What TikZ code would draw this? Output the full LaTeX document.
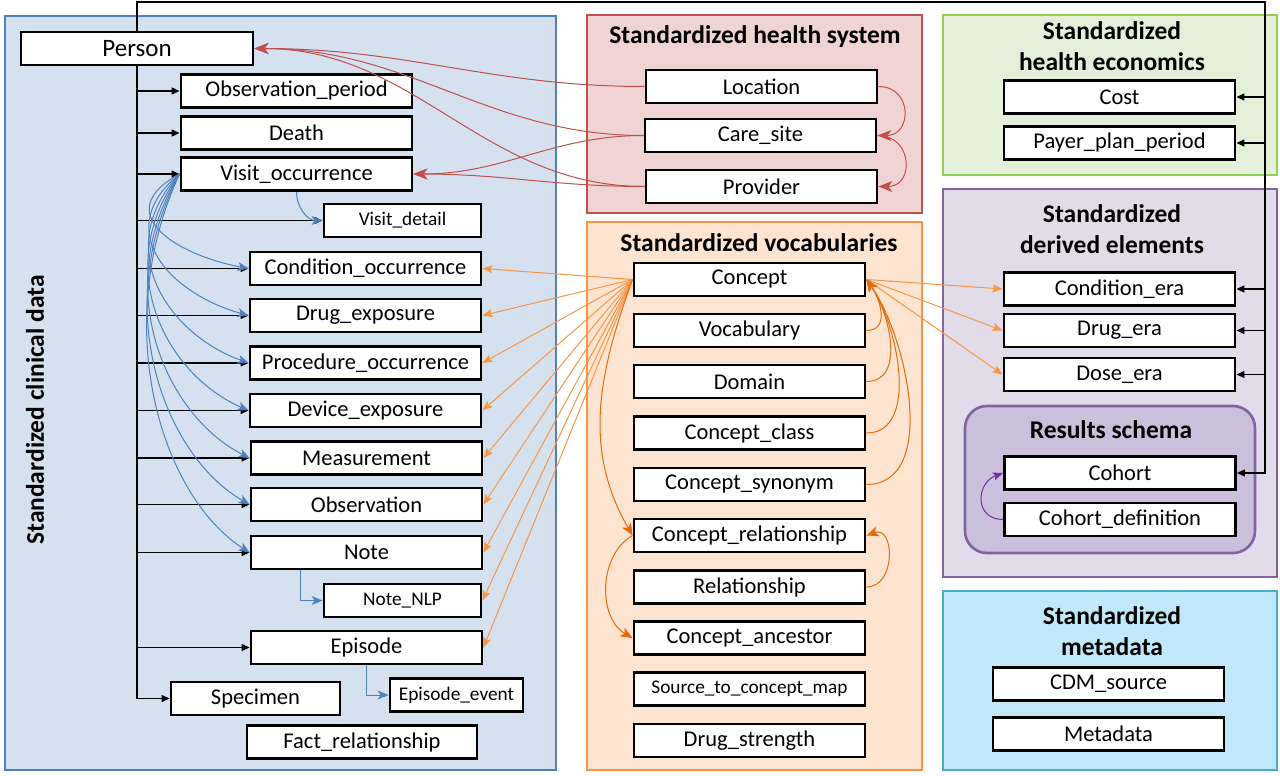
\documentclass[tikz,border=0pt]{standalone}
\usepackage{fontspec}
\setmainfont{Carlito}
\usepackage{tikz}
\usetikzlibrary{arrows.meta,positioning}
\definecolor{clinblue}{HTML}{4F81BD}
\definecolor{clinfill}{HTML}{D5E1EF}
\definecolor{hsred}{HTML}{C0504D}
\definecolor{hsfill}{HTML}{F0D4D3}
\definecolor{vocorange}{HTML}{F79646}
\definecolor{vocdark}{HTML}{E46C0A}
\definecolor{vocfill}{HTML}{FDE4D1}
\definecolor{ecogreen}{HTML}{92D050}
\definecolor{ecofill}{HTML}{E3EFD9}
\definecolor{derpurple}{HTML}{8064A2}
\definecolor{derfill}{HTML}{E1DBEA}
\definecolor{resfill}{HTML}{CBC0DB}
\definecolor{cohortviolet}{HTML}{7030A0}
\definecolor{metacyan}{HTML}{4BACC6}
\definecolor{metafill}{HTML}{C1E8F8}

\begin{document}
\begin{tikzpicture}[x=1pt,y=-1pt,
  tbl/.style={draw,line width=2.9pt,fill=white,minimum width=231pt,minimum height=33pt,
    inner sep=0pt,font=\fontsize{22.5}{26}\selectfont},
  small/.style={font=\fontsize{19.3}{22}\selectfont},
  grp/.style={line width=2.6pt},
  ttl/.style={font=\bfseries\fontsize{25.5}{31}\selectfont,align=center},
  trunk/.style={line width=1.3pt,-{Triangle[length=8pt,width=7pt]}},
  visit/.style={clinblue,line width=1pt,-{Stealth[length=11pt,width=9pt,inset=3pt]}},
  hs/.style={hsred,line width=1pt,-{Stealth[length=14pt,width=11pt,inset=4pt]}},
  voc/.style={vocorange,line width=1pt,-{Stealth[length=10pt,width=8pt,inset=2pt]}},
  vocin/.style={vocdark,line width=1pt,-{Stealth[length=12pt,width=10pt,inset=3pt]}}]
  \useasboundingbox (0,0) rectangle (1280,776);

  % groups
  \draw[grp,clinblue,fill=clinfill] (5,16) rectangle (556,770);
  \draw[grp,hsred,fill=hsfill] (587,15) rectangle (922,213);
  \draw[grp,vocorange,fill=vocfill] (587,222) rectangle (922,770);
  \draw[grp,ecogreen,fill=ecofill] (943,15) rectangle (1277,175);
  \draw[grp,derpurple,fill=derfill] (943,189) rectangle (1277,577);
  \draw[grp,derpurple,fill=resfill,rounded corners=22pt] (965,406) rectangle (1255,553);
  \draw[grp,metacyan,fill=metafill] (943,591) rectangle (1277,770);

  \node[ttl,rotate=90] (clinttl) at (35,410) {Standardized clinical data};
  \node[ttl] (hsttl) at (755,37) {Standardized health system};
  \node[ttl] (vocttl) at (759,243) {Standardized vocabularies};
  \node[ttl] (ecottl) at (1112,46) {Standardized\\health economics};
  \node[ttl] (derttl) at (1112,229) {Standardized\\derived elements};
  \node[ttl] (resttl) at (1111,430) {Results schema};
  \node[ttl] (metattl) at (1112,631) {Standardized\\metadata};

  % clinical data
  \node[tbl,minimum width=232pt,font=\fontsize{25}{28}\selectfont] (Person) at (137,48.5) {Person};
  \node[tbl] (ObsPeriod) at (296.5,91) {Observation\_period};
  \node[tbl] (Death) at (296.5,133) {Death};
  \node[tbl] (Visit) at (296.5,174) {Visit\_occurrence};
  \node[tbl,small,minimum width=157pt] (VisitDetail) at (402.5,220.5) {Visit\_detail};
  \node[tbl] (CondOcc) at (365.5,268.5) {Condition\_occurrence};
  \node[tbl] (DrugExp) at (365.5,315.5) {Drug\_exposure};
  \node[tbl] (ProcOcc) at (365.5,363) {Procedure\_occurrence};
  \node[tbl] (DevExp) at (365.5,410.5) {Device\_exposure};
  \node[tbl] (Meas) at (366.5,458) {Measurement};
  \node[tbl] (Obs) at (366.5,504.5) {Observation};
  \node[tbl] (Note) at (366.5,552.5) {Note};
  \node[tbl,small,minimum width=157pt] (NoteNLP) at (402.5,600.5) {Note\_NLP};
  \node[tbl] (Episode) at (366.5,647.5) {Episode};
  \node[tbl,small,minimum width=133pt] (EpEvent) at (456.5,695) {Episode\_event};
  \node[tbl,minimum width=169pt] (Specimen) at (255.5,698.5) {Specimen};
  \node[tbl,minimum width=230pt] (FactRel) at (362,742) {Fact\_relationship};

  % health system
  \node[tbl] (Location) at (761.5,86.5) {Location};
  \node[tbl] (CareSite) at (760.5,135.5) {Care\_site};
  \node[tbl] (Provider) at (761.5,186.5) {Provider};

  % vocabularies
  \node[tbl] (Concept) at (749.5,279.5) {Concept};
  \node[tbl] (Vocab) at (749.5,330.5) {Vocabulary};
  \node[tbl] (Domain) at (749.5,381.5) {Domain};
  \node[tbl] (ConClass) at (749.5,433) {Concept\_class};
  \node[tbl] (ConSyn) at (749.5,484.5) {Concept\_synonym};
  \node[tbl] (ConRel) at (749.5,535.5) {Concept\_relationship};
  \node[tbl] (Rel) at (749.5,587) {Relationship};
  \node[tbl] (ConAnc) at (749.5,638) {Concept\_ancestor};
  \node[tbl,small] (SrcMap) at (749.5,689) {Source\_to\_concept\_map};
  \node[tbl] (DrugStr) at (749.5,740.5) {Drug\_strength};

  % economics, derived, results, metadata
  \node[tbl] (Cost) at (1119.5,97) {Cost};
  \node[tbl] (Payer) at (1119.5,143) {Payer\_plan\_period};
  \node[tbl] (CondEra) at (1119.5,289) {Condition\_era};
  \node[tbl] (DrugEra) at (1119.5,330.5) {Drug\_era};
  \node[tbl] (DoseEra) at (1119.5,374.5) {Dose\_era};
  \node[tbl] (Cohort) at (1120,473) {Cohort};
  \node[tbl] (CohortDef) at (1120,519.5) {Cohort\_definition};
  \node[tbl] (CdmSrc) at (1108.5,684) {CDM\_source};
  \node[tbl] (Metadata) at (1108.5,734) {Metadata};

  % person links
  \coordinate (topL) at (137,2);
  \coordinate (topR) at (1265,2);
  \draw[trunk] (Person.north) -- (topL) -- (topR) -- (topR |- Cohort.east) -- (Cohort.east);
  \foreach \n in {Cost,Payer,CondEra,DrugEra,DoseEra}
    \draw[trunk] (topR |- \n.east) -- (\n.east);
  \draw[trunk] (Person.south) -- (Person.south |- Specimen.west) -- (Specimen.west);
  \foreach \n in {ObsPeriod,Death,Visit,VisitDetail,CondOcc,DrugExp,ProcOcc,DevExp,Meas,Obs,Note,Episode}
    \draw[trunk] (Person.south |- \n.west) -- (\n.west);

  % visit links
  \draw[visit] (Visit.south) to[out=270,in=180] (VisitDetail.west);
  \foreach \n/\dy in {CondOcc/94.5,DrugExp/141.5,ProcOcc/189,DevExp/236.5,Meas/284,Obs/330.5,Note/378.5}
    \draw[visit] (Visit.west) .. controls +(-70,0.4*\dy) and +(-70-0.05*\dy,-0.15*\dy) .. (\n.west);
  \draw[visit] ([xshift=-66pt]Note.south) |- (NoteNLP.west);
  \draw[visit] (Episode.south) |- (EpEvent.west);

  % health system links
  \foreach \s/\t in {Location/Person,CareSite/Person,Provider/Person,CareSite/Visit,Provider/Visit}
    \draw[hs] (\s.west) to[out=180,in=0] (\t.east);
  \draw[hs] (Location.east) to[out=0,in=0,looseness=1.8] (CareSite.east);
  \draw[hs] (CareSite.east) to[out=0,in=0,looseness=1.8] (Provider.east);

  % vocabulary links
  \foreach \n in {CondOcc,DrugExp,ProcOcc,DevExp,Meas,Obs,Note,NoteNLP,Episode}
    \draw[voc] (Concept.west) -- (\n.east);
  \foreach \n in {CondEra,DrugEra,DoseEra}
    \draw[voc] (Concept.east) -- (\n.west);
  \foreach \n/\l in {Vocab/1.2,Domain/1,ConClass/0.9,ConSyn/0.9}
    \draw[vocin] (\n.east) to[out=0,in=-55,looseness=\l] (Concept.east);
  \draw[vocin] (Concept.west) to[out=250,in=120] (ConRel.west);
  \draw[vocin] (ConRel.west) to[out=210,in=150] (ConAnc.west);
  \draw[vocin] (Rel.east) to[out=0,in=20,looseness=1.5] (ConRel.east);

  % results
  \draw[cohortviolet,line width=1pt,-{Stealth[length=10pt,width=8pt,inset=2pt]}]
    (CohortDef.west) to[out=180,in=200,looseness=1.6] (Cohort.west);
\end{tikzpicture}
\end{document}
